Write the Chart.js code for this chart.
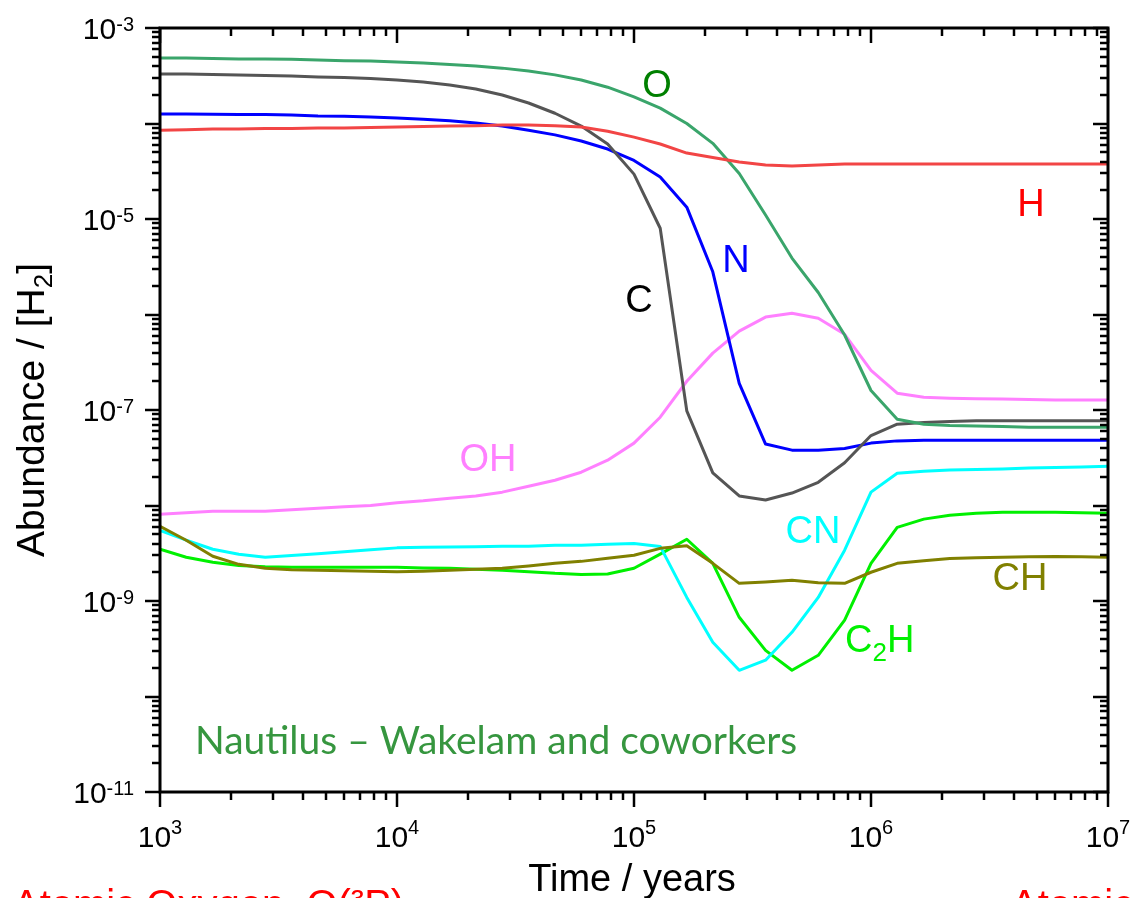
<!DOCTYPE html>
<html>
<head>
<meta charset="utf-8">
<script src="https://cdn.jsdelivr.net/npm/chart.js@4"></script>
<style>
  html, body { margin: 0; padding: 0; background: #fff; }
  canvas { display: block; }
</style>
</head>
<body>
<canvas id="abundChart" width="1132" height="898"></canvas>
<script>
// model output times (years), 9 steps per decade
const times = [
  1.00e3, 1.29e3, 1.67e3, 2.15e3, 2.78e3, 3.59e3, 4.64e3, 5.99e3, 7.74e3,
  1.00e4, 1.29e4, 1.67e4, 2.15e4, 2.78e4, 3.59e4, 4.64e4, 5.99e4, 7.74e4,
  1.00e5, 1.29e5, 1.67e5, 2.15e5, 2.78e5, 3.59e5, 4.64e5, 5.99e5, 7.74e5,
  1.00e6, 1.29e6, 1.67e6, 2.15e6, 2.78e6, 3.59e6, 4.64e6, 5.99e6, 7.74e6,
  1.00e7
];

// abundances relative to H2
const abO = [
  4.85e-4, 4.85e-4, 4.8e-4, 4.75e-4, 4.75e-4, 4.7e-4, 4.62e-4, 4.55e-4, 4.5e-4,
  4.4e-4, 4.3e-4, 4.15e-4, 4.0e-4, 3.8e-4, 3.55e-4, 3.23e-4, 2.85e-4, 2.4e-4,
  1.9e-4, 1.45e-4, 1.0e-4, 6.2e-5, 3.0e-5, 1.1e-5, 3.9e-6, 1.7e-6, 6.1e-7,
  1.6e-7, 8.0e-8, 7.1e-8, 6.9e-8, 6.8e-8, 6.7e-8, 6.6e-8, 6.6e-8, 6.6e-8,
  6.6e-8
];
const abC = [
  3.3e-4, 3.3e-4, 3.26e-4, 3.22e-4, 3.18e-4, 3.15e-4, 3.07e-4, 3.03e-4, 2.96e-4,
  2.85e-4, 2.72e-4, 2.53e-4, 2.3e-4, 1.99e-4, 1.64e-4, 1.28e-4, 9.4e-5, 6.1e-5,
  2.95e-5, 8.0e-6, 9.8e-8, 2.2e-8, 1.26e-8, 1.14e-8, 1.35e-8, 1.75e-8, 2.8e-8,
  5.4e-8, 7.1e-8, 7.4e-8, 7.6e-8, 7.7e-8, 7.7e-8, 7.7e-8, 7.7e-8, 7.7e-8,
  7.7e-8
];
const abN = [
  1.26e-4, 1.26e-4, 1.25e-4, 1.24e-4, 1.24e-4, 1.23e-4, 1.2e-4, 1.19e-4, 1.17e-4,
  1.14e-4, 1.11e-4, 1.07e-4, 1.01e-4, 9.4e-5, 8.5e-5, 7.6e-5, 6.55e-5, 5.4e-5,
  4.1e-5, 2.75e-5, 1.33e-5, 2.8e-6, 1.9e-7, 4.4e-8, 3.8e-8, 3.8e-8, 3.95e-8,
  4.5e-8, 4.75e-8, 4.83e-8, 4.83e-8, 4.83e-8, 4.83e-8, 4.83e-8, 4.83e-8, 4.83e-8,
  4.83e-8
];
const abH = [
  8.5e-5, 8.6e-5, 8.75e-5, 8.75e-5, 8.85e-5, 8.85e-5, 8.96e-5, 8.96e-5, 9.07e-5,
  9.18e-5, 9.3e-5, 9.4e-5, 9.5e-5, 9.63e-5, 9.63e-5, 9.5e-5, 9.18e-5, 8.3e-5,
  7.2e-5, 6.1e-5, 4.9e-5, 4.4e-5, 3.95e-5, 3.67e-5, 3.58e-5, 3.67e-5, 3.76e-5,
  3.76e-5, 3.76e-5, 3.76e-5, 3.76e-5, 3.76e-5, 3.76e-5, 3.76e-5, 3.76e-5, 3.76e-5,
  3.76e-5
];
const abOH = [
  8.1e-9, 8.4e-9, 8.7e-9, 8.7e-9, 8.7e-9, 9.0e-9, 9.35e-9, 9.7e-9, 1.0e-8,
  1.07e-8, 1.12e-8, 1.19e-8, 1.26e-8, 1.38e-8, 1.59e-8, 1.84e-8, 2.23e-8, 2.98e-8,
  4.5e-8, 8.4e-8, 2.0e-7, 3.94e-7, 6.7e-7, 9.4e-7, 1.03e-6, 9.15e-7, 6.2e-7,
  2.6e-7, 1.5e-7, 1.36e-7, 1.33e-7, 1.31e-7, 1.3e-7, 1.29e-7, 1.27e-7, 1.27e-7,
  1.27e-7
];
const abCN = [
  5.5e-9, 4.33e-9, 3.48e-9, 3.09e-9, 2.87e-9, 3.0e-9, 3.13e-9, 3.28e-9, 3.45e-9,
  3.6e-9, 3.65e-9, 3.68e-9, 3.7e-9, 3.75e-9, 3.75e-9, 3.84e-9, 3.84e-9, 3.93e-9,
  4.0e-9, 3.73e-9, 1.09e-9, 3.7e-10, 1.88e-10, 2.4e-10, 4.7e-10, 1.09e-9, 3.4e-9,
  1.38e-8, 2.18e-8, 2.29e-8, 2.35e-8, 2.38e-8, 2.41e-8, 2.47e-8, 2.5e-8, 2.53e-8,
  2.58e-8
];
const abC2H = [
  3.48e-9, 2.87e-9, 2.54e-9, 2.36e-9, 2.28e-9, 2.25e-9, 2.25e-9, 2.25e-9, 2.25e-9,
  2.25e-9, 2.22e-9, 2.2e-9, 2.15e-9, 2.1e-9, 2.03e-9, 1.95e-9, 1.9e-9, 1.92e-9,
  2.2e-9, 3.1e-9, 4.43e-9, 2.48e-9, 6.75e-10, 3.04e-10, 1.88e-10, 2.7e-10, 6.3e-10,
  2.48e-9, 5.9e-9, 7.2e-9, 7.9e-9, 8.3e-9, 8.5e-9, 8.5e-9, 8.5e-9, 8.4e-9,
  8.3e-9
];
const abCH = [
  6.06e-9, 4.33e-9, 2.94e-9, 2.42e-9, 2.2e-9, 2.13e-9, 2.1e-9, 2.07e-9, 2.05e-9,
  2.02e-9, 2.05e-9, 2.1e-9, 2.15e-9, 2.2e-9, 2.32e-9, 2.48e-9, 2.6e-9, 2.8e-9,
  3.01e-9, 3.56e-9, 3.79e-9, 2.48e-9, 1.53e-9, 1.58e-9, 1.65e-9, 1.55e-9, 1.53e-9,
  2.0e-9, 2.48e-9, 2.64e-9, 2.78e-9, 2.83e-9, 2.87e-9, 2.9e-9, 2.93e-9, 2.9e-9,
  2.87e-9
];

const xExponents = [3, 4, 5, 6, 7];
const yLabelExponents = [-3, -5, -7, -9, -11];

const series = [
  { name: "H", values: abH, color: "#f24545" },
  { name: "O", values: abO, color: "#3aa56b" },
  { name: "C", values: abC, color: "#555555" },
  { name: "N", values: abN, color: "#0000ff" },
  { name: "OH", values: abOH, color: "#ff80ff" },
  { name: "CH", values: abCH, color: "#808000" },
  { name: "CN", values: abCN, color: "#00ffff" },
  { name: "C2H", values: abC2H, color: "#00f000" },
];

const FONT = "'Liberation Sans', Arial, sans-serif";

function powerLabel(ctx, exp, x, y, align, baseSize, expSize, expRise) {
  ctx.font = baseSize + "px " + FONT;
  const wBase = ctx.measureText("10").width;
  ctx.font = expSize + "px " + FONT;
  const wExp = ctx.measureText(String(exp)).width;
  const total = wBase + wExp;
  let start = align === "right" ? x - total : x - total / 2;
  ctx.textAlign = "left";
  ctx.textBaseline = "alphabetic";
  ctx.font = baseSize + "px " + FONT;
  ctx.fillText("10", start, y);
  ctx.font = expSize + "px " + FONT;
  ctx.fillText(String(exp), start + wBase, y - expRise);
}

const frame = {
  id: "frame",
  afterDatasetsDraw(chart) {
    const { ctx, chartArea: a, scales } = chart;
    const xs = scales.x, ys = scales.y;
    ctx.save();
    ctx.strokeStyle = "#000";
    ctx.fillStyle = "#000";
    ctx.lineCap = "butt";

    const seg = (x1, y1, x2, y2) => {
      ctx.beginPath();
      ctx.moveTo(x1, y1);
      ctx.lineTo(x2, y2);
      ctx.stroke();
    };

    // ticks: outward on bottom/left, inward on top/right
    ctx.lineWidth = 2.5;
    for (let e = 3; e <= 7; e++) {
      for (let m = 1; m <= 9; m++) {
        if (e === 7 && m > 1) break;
        const px = Math.round(xs.getPixelForValue(m * Math.pow(10, e)));
        const len = m === 1 ? 15 : 8;
        seg(px, a.bottom, px, a.bottom + len);
        seg(px, a.top, px, a.top + len);
      }
    }
    for (let e = -11; e <= -3; e++) {
      for (let m = 1; m <= 9; m++) {
        if (e === -3 && m > 1) break;
        const py = Math.round(ys.getPixelForValue(m * Math.pow(10, e)));
        const len = m === 1 ? 15 : 8;
        seg(a.left - len, py, a.left, py);
        seg(a.right - len, py, a.right, py);
      }
    }

    ctx.lineWidth = 3;
    ctx.strokeRect(a.left, a.top, a.right - a.left, a.bottom - a.top);

    // tick labels
    xExponents.forEach(e => {
      const px = xs.getPixelForValue(Math.pow(10, e));
      powerLabel(ctx, e, px, a.bottom + 55, "center", 30, 20, 13);
    });
    yLabelExponents.forEach(e => {
      const py = ys.getPixelForValue(Math.pow(10, e));
      powerLabel(ctx, e, a.left - 26, py + 11, "right", 30, 20, 8);
    });

    // axis titles
    ctx.font = "38px " + FONT;
    ctx.textAlign = "center";
    ctx.fillText("Time / years", 632, 891);

    ctx.save();
    ctx.translate(44, 410);
    ctx.rotate(-Math.PI / 2);
    ctx.textAlign = "left";
    ctx.font = "39px " + FONT;
    const p1 = "Abundance / [H";
    const w1 = ctx.measureText(p1).width;
    ctx.font = "26px " + FONT;
    const w2 = ctx.measureText("2").width;
    ctx.font = "39px " + FONT;
    const w3 = ctx.measureText("]").width;
    let sx = -(w1 + w2 + w3) / 2;
    ctx.fillText(p1, sx, 0);
    ctx.font = "26px " + FONT;
    ctx.fillText("2", sx + w1, 8);
    ctx.font = "39px " + FONT;
    ctx.fillText("]", sx + w1 + w2, 0);
    ctx.restore();

    // species labels
    const tags = [
      { t: "O", x: 657, y: 97, c: "#008000" },
      { t: "H", x: 1031, y: 216, c: "#ff0000" },
      { t: "N", x: 736, y: 272, c: "#0000ff" },
      { t: "C", x: 639, y: 312, c: "#000000" },
      { t: "OH", x: 488, y: 471, c: "#ff80ff" },
      { t: "CN", x: 813, y: 543, c: "#00ffff" },
      { t: "CH", x: 1020, y: 590, c: "#808000" },
    ];
    ctx.textAlign = "center";
    ctx.font = "38px " + FONT;
    tags.forEach(g => {
      ctx.fillStyle = g.c;
      ctx.fillText(g.t, g.x, g.y);
    });

    // C2H with subscript
    ctx.fillStyle = "#00f000";
    ctx.textAlign = "left";
    ctx.font = "38px " + FONT;
    const wc = ctx.measureText("C").width;
    ctx.fillText("C", 845, 652);
    ctx.font = "26px " + FONT;
    const ws = ctx.measureText("2").width;
    ctx.fillText("2", 845 + wc, 661);
    ctx.font = "38px " + FONT;
    ctx.fillText("H", 845 + wc + ws, 652);

    // model credit
    ctx.fillStyle = "#36963f";
    ctx.font = "40px Lato, 'Open Sans', sans-serif";
    const credit = "Nautilus \u2013 Wakelam and coworkers";
    const cw = ctx.measureText(credit).width;
    const size = 40 * 602 / cw;
    ctx.font = size.toFixed(1) + "px Lato, 'Open Sans', sans-serif";
    ctx.fillText(credit, 195, 754);

    // cut-off captions along the bottom edge
    ctx.fillStyle = "#ff0000";
    ctx.font = "40px " + FONT;
    ctx.fillText("Atomic Oxygen  O(\u00b3P)", 13, 918);
    ctx.fillText("Atomic Nitrogen", 1011, 918);

    ctx.restore();
  }
};

new Chart(document.getElementById("abundChart"), {
  type: "line",
  data: {
    datasets: series.map(s => ({
      label: s.name,
      data: times.map((t, i) => ({ x: t, y: s.values[i] })),
      borderColor: s.color,
      backgroundColor: s.color,
      borderWidth: 3,
      borderJoinStyle: "round",
      pointRadius: 0,
      tension: 0,
      fill: false,
    })),
  },
  options: {
    responsive: false,
    animation: false,
    devicePixelRatio: 1,
    layout: { padding: { left: 160, top: 28, right: 24, bottom: 106 } },
    plugins: {
      legend: { display: false },
      tooltip: { enabled: false },
    },
    scales: {
      x: { type: "logarithmic", min: 1e3, max: 1e7, display: false },
      y: { type: "logarithmic", min: 1e-11, max: 1e-3, display: false },
    },
  },
  plugins: [frame],
});
</script>
</body>
</html>
